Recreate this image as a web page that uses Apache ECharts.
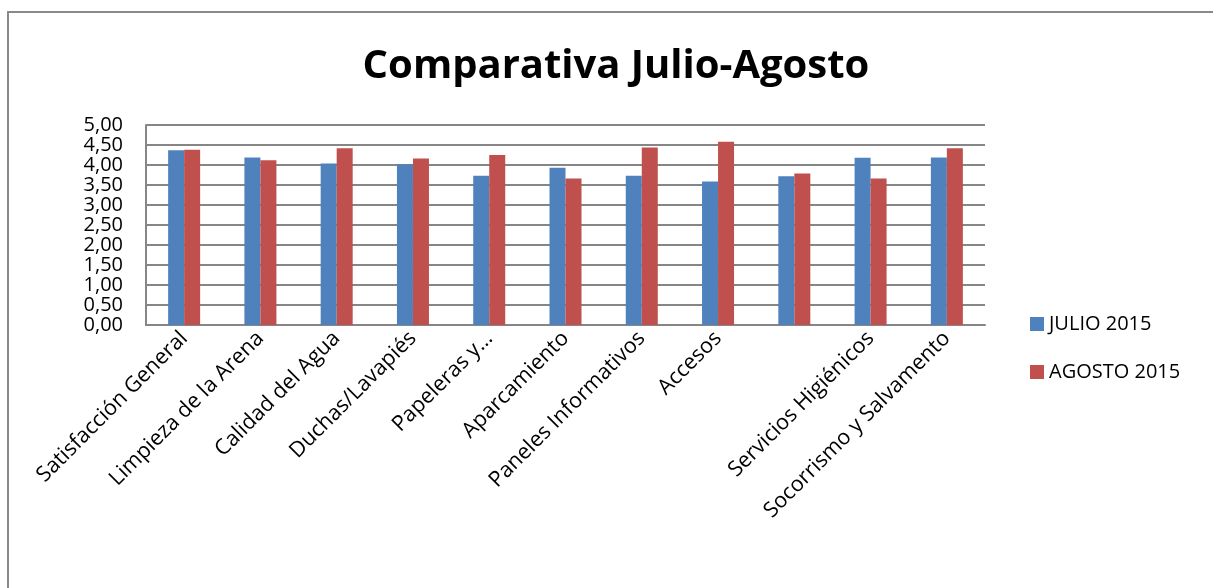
<!DOCTYPE html>
<html>
<head>
<meta charset="utf-8">
<script src="https://cdn.jsdelivr.net/npm/echarts@6/dist/echarts.min.js"></script>
<style>html,body{margin:0;padding:0;background:#fff;}#c{width:1213px;height:588px;}</style>
</head>
<body>
<div id="c"></div>
<script>
const categories = ["Satisfacción General","Limpieza de la Arena","Calidad del Agua","Duchas/Lavapiés","Papeleras y…","Aparcamiento","Paneles Informativos","Accesos","","Servicios Higiénicos","Socorrismo y Salvamento"];
const julio = [4.37,4.19,4.04,4.02,3.73,3.93,3.73,3.59,3.72,4.18,4.19];
const agosto = [4.38,4.12,4.42,4.16,4.25,3.66,4.44,4.58,3.79,3.66,4.42];
const seriesNames = ["JULIO 2015","AGOSTO 2015"];
const titleText = "Comparativa Julio-Agosto";

const chart = echarts.init(document.getElementById('c'));
const FONT = "'Open Sans', 'Noto Sans', sans-serif";
chart.setOption({
  animation: false,
  graphic: [
    {type:'rect', shape:{x:8,y:12,width:1230,height:600}, style:{fill:'none', stroke:'#898989', lineWidth:2}},
    {type:'text', x:616, y:67, style:{text:titleText, font:"bold 40px 'Open Sans', sans-serif", fill:'#000', align:'center', verticalAlign:'middle'}}
  ],
  legend: {
    orient:'vertical', left:1025, top:309, itemGap:28, itemWidth:14, itemHeight:14,
    icon:'rect', textStyle:{fontSize:20, fontFamily:FONT, color:'#000'},
    data: seriesNames
  },
  grid: {left:146, right:228, top:125, bottom:263},
  xAxis: {
    type:'category', data:categories,
    axisLine:{lineStyle:{color:'#868686', width:2}},
    axisTick:{show:false},
    axisLabel:{rotate:45, interval:0, margin:10, fontSize:21.5, fontFamily:FONT, color:'#000'}
  },
  yAxis: {
    type:'value', min:0, max:5, interval:0.5,
    axisLine:{show:true, lineStyle:{color:'#868686', width:2}},
    axisTick:{show:false},
    splitLine:{lineStyle:{color:'#868686', width:2}},
    axisLabel:{fontSize:20, fontFamily:FONT, color:'#000', margin:23,
      formatter:v=>v.toFixed(2).replace('.',',')}
  },
  series: [
    {name:seriesNames[0], type:'bar', data:julio, barWidth:16, barGap:'0%', itemStyle:{color:'#4F81BD'}},
    {name:seriesNames[1], type:'bar', data:agosto, barWidth:16, itemStyle:{color:'#C0504D'}}
  ]
});
</script>
</body>
</html>
